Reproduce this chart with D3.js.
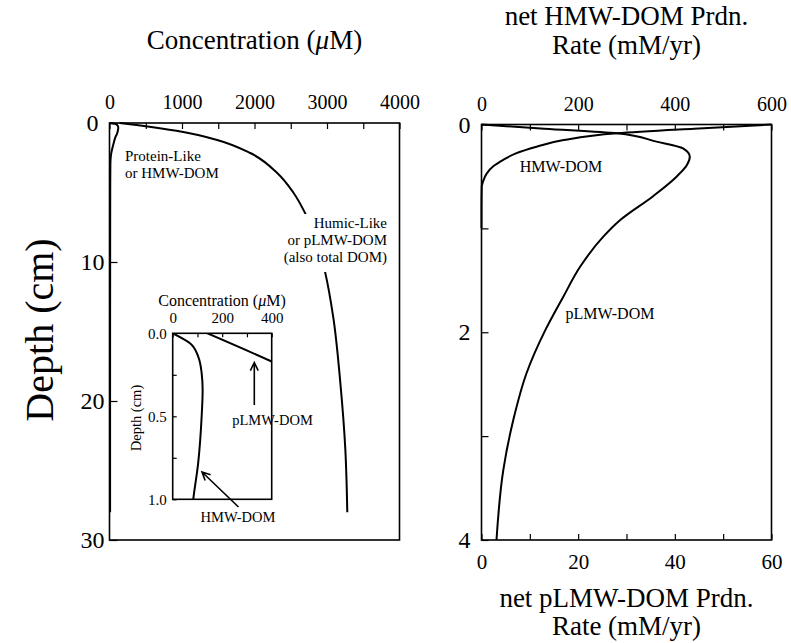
<!DOCTYPE html>
<html><head><meta charset="utf-8">
<script src="https://cdn.jsdelivr.net/npm/d3@7"></script>
<style>
body{margin:0;background:#fff}
text{font-family:"Liberation Serif","Times New Roman",serif;fill:#000}
</style>
</head><body>
<svg id="c" width="791" height="643"></svg>
<script>
// ---- data ----
const humicDepth = [0,0.17,0.31,0.65,1.22,2.16,3.6,5.0,6.5,8.5,10.8,14,18.7,23.5,28];
const humicConc  = [140,400,600,1017,1485,1941,2313,2535,2700,2860,2977,3087,3184,3253,3280];
const hmwDepth   = [0,0.06,0.14,0.24,0.34,0.5,0.78,1.0,1.5,2.4,3,5,10,20,28];
const hmwConc    = [0,70,103,117,121,117,103,83,55,18,12,10,9,8,8];
const hmwRateDepth = [0,0.04,0.085,0.15,0.214,0.28,0.34,0.4,0.47,0.55,0.6,0.8,1.0];
const hmwRate      = [600,440,280,170,114,70,45,25,11,3,0.5,0,0];
const plmwRateDepth = [0,0.04,0.085,0.165,0.23,0.31,0.39,0.5,0.69,0.92,1.08,1.37,1.66,1.98,2.39,2.84,3.33,4.0];
const plmwRate      = [0,13,28,36.2,41.7,43.1,42.5,40.4,35.5,28.7,25.2,20.4,16.9,13.2,9.35,6.6,4.5,3.1];
const concTicks = [0,500,1000,1500,2000,2500,3000,3500,4000];
const concLabels = [0,1000,2000,3000,4000];
const depthTicks = [0,10,20,30];
const insetXTicks = [0,100,200,300,400];
const insetXLabels = [0,200,400];
const insetYTicks = [0,0.25,0.5,0.75,1.0];
const insetYLabels = [0,0.5,1.0];
const hmwRateTicks = [0,100,200,300,400,500,600];
const hmwRateLabels = [0,200,400,600];
const plmwRateTicks = [0,10,20,30,40,50,60];
const plmwRateLabels = [0,20,40,60];
const rateDepthTicks = [0,1,2,3,4];
const rateDepthLabels = [0,2,4];

const svg = d3.select("#c");
const zip = (ds, vs) => ds.map((d,i)=>({d, v: vs[i]}));

// ---- scales ----
const xL = d3.scaleLinear([0,4000],[109.5,399.5]);
const yL = d3.scaleLinear([0,30],[123,540]);
const xI = d3.scaleLinear([0,400],[172.7,271.7]);
const yI = d3.scaleLinear([0,1],[333.3,499.3]);
const xRt = d3.scaleLinear([0,600],[481.5,771.5]);
const xRb = d3.scaleLinear([0,60],[481.5,771.5]);
const yR = d3.scaleLinear([0,4],[124.5,540]);

function frame(x,y){
  svg.append("rect").attr("x",x.range()[0]).attr("y",y.range()[0])
    .attr("width",x.range()[1]-x.range()[0]).attr("height",y.range()[1]-y.range()[0])
    .attr("fill","none").attr("stroke","#000").attr("stroke-width",1.6);
}
function styleAxis(g, fs){
  g.select(".domain").remove();
  g.selectAll("line").attr("stroke","#000").attr("stroke-width",1.2);
  g.selectAll("text").attr("font-family","Liberation Serif, Times New Roman, serif").attr("font-size",fs).attr("fill","#000");
}
const fmt = labels => d => labels.includes(d) ? String(d) : "";
const fmt1 = labels => d => labels.includes(d) ? d.toFixed(1) : "";

// ---- left panel ----
frame(xL,yL);
svg.append("g").attr("transform",`translate(0,${yL.range()[0]})`)
  .call(d3.axisTop(xL).tickValues(concTicks).tickFormat(fmt(concLabels)).tickSizeInner(-6).tickSizeOuter(0).tickPadding(14))
  .call(g=>styleAxis(g,20));
svg.append("g").attr("transform",`translate(${xL.range()[0]},0)`)
  .call(d3.axisLeft(yL).tickValues(depthTicks).tickFormat(d=>String(d)).tickSizeInner(-8).tickSizeOuter(0).tickPadding(16))
  .call(g=>styleAxis(g,24))
  .call(g=>g.selectAll("text").attr("text-anchor","middle").attr("x",-17));

const lineL = d3.line().x(p=>xL(p.v)).y(p=>yL(p.d)).curve(d3.curveMonotoneY);
svg.append("path").datum(zip(humicDepth,humicConc)).attr("d",lineL)
  .attr("fill","none").attr("stroke","#000").attr("stroke-width",2);
svg.append("path").datum(zip(hmwDepth,hmwConc)).attr("d",lineL)
  .attr("fill","none").attr("stroke","#000").attr("stroke-width",2);

// labels
svg.append("rect").attr("x",275).attr("y",214).attr("width",122).attr("height",58).attr("fill","#fff");
const lab = (x,y,t,anchor,fs)=>svg.append("text").attr("x",x).attr("y",y).attr("text-anchor",anchor).attr("font-size",fs).text(t);
lab(125,161,"Protein-Like","start",15);
lab(125,178,"or HMW-DOM","start",15);
lab(387,228,"Humic-Like","end",15);
lab(387,245,"or pLMW-DOM","end",15);
lab(387,262,"(also total DOM)","end",15);

// ---- inset ----
frame(xI,yI);
svg.append("defs").append("clipPath").attr("id","clipI").append("rect")
  .attr("x",172.7).attr("y",333.3).attr("width",99).attr("height",166);
svg.append("g").attr("transform",`translate(0,${yI.range()[0]})`)
  .call(d3.axisTop(xI).tickValues(insetXTicks).tickFormat(fmt(insetXLabels)).tickSizeInner(-4).tickSizeOuter(0).tickPadding(10))
  .call(g=>styleAxis(g,15));
svg.append("g").attr("transform",`translate(${xI.range()[0]},0)`)
  .call(d3.axisLeft(yI).tickValues(insetYTicks).tickFormat(fmt1(insetYLabels)).tickSizeInner(-4).tickSizeOuter(0).tickPadding(6))
  .call(g=>styleAxis(g,15));
const lineI = d3.line().x(p=>xI(p.v)).y(p=>yI(p.d)).curve(d3.curveMonotoneY);
const gI = svg.append("g").attr("clip-path","url(#clipI)");
gI.append("path").datum(zip(humicDepth,humicConc)).attr("d",lineI)
  .attr("fill","none").attr("stroke","#000").attr("stroke-width",2);
gI.append("path").datum(zip(hmwDepth,hmwConc)).attr("d",lineI)
  .attr("fill","none").attr("stroke","#000").attr("stroke-width",2);
const t1 = svg.append("text").attr("x",222).attr("y",306).attr("text-anchor","middle").attr("font-size",16);
t1.append("tspan").text("Concentration (");
t1.append("tspan").attr("font-style","italic").text("μ");
t1.append("tspan").text("M)");
svg.append("text").attr("transform","translate(141,418) rotate(-90)").attr("text-anchor","middle").attr("font-size",14.5).text("Depth (cm)");
lab(272.5,425,"pLMW-DOM","middle",14.5);
lab(238,522,"HMW-DOM","middle",14.5);
function arrow(x1,y1,x2,y2){
  const a = Math.atan2(y2-y1,x2-x1), L=9, w=0.45;
  const p = `M${x1},${y1}L${x2},${y2}M${x2-L*Math.cos(a-w)},${y2-L*Math.sin(a-w)}L${x2},${y2}L${x2-L*Math.cos(a+w)},${y2-L*Math.sin(a+w)}`;
  svg.append("path").attr("d",p).attr("fill","none").attr("stroke","#000").attr("stroke-width",1.6);
}
arrow(254.3,405,254.3,362.5);
arrow(238.5,507,202,472);

// ---- right panel ----
frame(xRt,yR);
svg.append("g").attr("transform",`translate(0,${yR.range()[0]})`)
  .call(d3.axisTop(xRt).tickValues(hmwRateTicks).tickFormat(fmt(hmwRateLabels)).tickSizeInner(-6).tickSizeOuter(0).tickPadding(14))
  .call(g=>styleAxis(g,20));
svg.append("g").attr("transform",`translate(0,${yR.range()[1]})`)
  .call(d3.axisBottom(xRb).tickValues(plmwRateTicks).tickFormat(fmt(plmwRateLabels)).tickSizeInner(-6).tickSizeOuter(0).tickPadding(14))
  .call(g=>styleAxis(g,21));
svg.append("g").attr("transform",`translate(${xRt.range()[0]},0)`)
  .call(d3.axisLeft(yR).tickValues(rateDepthTicks).tickFormat(fmt(rateDepthLabels)).tickSizeInner(-7).tickSizeOuter(0).tickPadding(16))
  .call(g=>styleAxis(g,24))
  .call(g=>g.selectAll("text").attr("text-anchor","middle").attr("x",-17));
svg.append("path").datum(zip(hmwRateDepth,hmwRate))
  .attr("d",d3.line().x(p=>xRt(p.v)).y(p=>yR(p.d)).curve(d3.curveMonotoneY))
  .attr("fill","none").attr("stroke","#000").attr("stroke-width",2);
svg.append("path").datum(zip(plmwRateDepth,plmwRate))
  .attr("d",d3.line().x(p=>xRb(p.v)).y(p=>yR(p.d)).curve(d3.curveMonotoneY))
  .attr("fill","none").attr("stroke","#000").attr("stroke-width",2);
lab(561,172,"HMW-DOM","middle",16);
lab(610,319,"pLMW-DOM","middle",16);

// ---- titles ----
const tt = svg.append("text").attr("x",254.5).attr("y",49).attr("text-anchor","middle").attr("font-size",27);
tt.append("tspan").text("Concentration (");
tt.append("tspan").attr("font-style","italic").text("μ");
tt.append("tspan").text("M)");
lab(626.5,25,"net HMW-DOM Prdn.","middle",27);
lab(626.5,54,"Rate (mM/yr)","middle",27);
lab(626.5,607,"net pLMW-DOM Prdn.","middle",27);
lab(626.5,635,"Rate (mM/yr)","middle",27);
svg.append("text").attr("transform","translate(53,330) rotate(-90)").attr("text-anchor","middle").attr("font-size",40).text("Depth (cm)");
</script>
</body></html>
